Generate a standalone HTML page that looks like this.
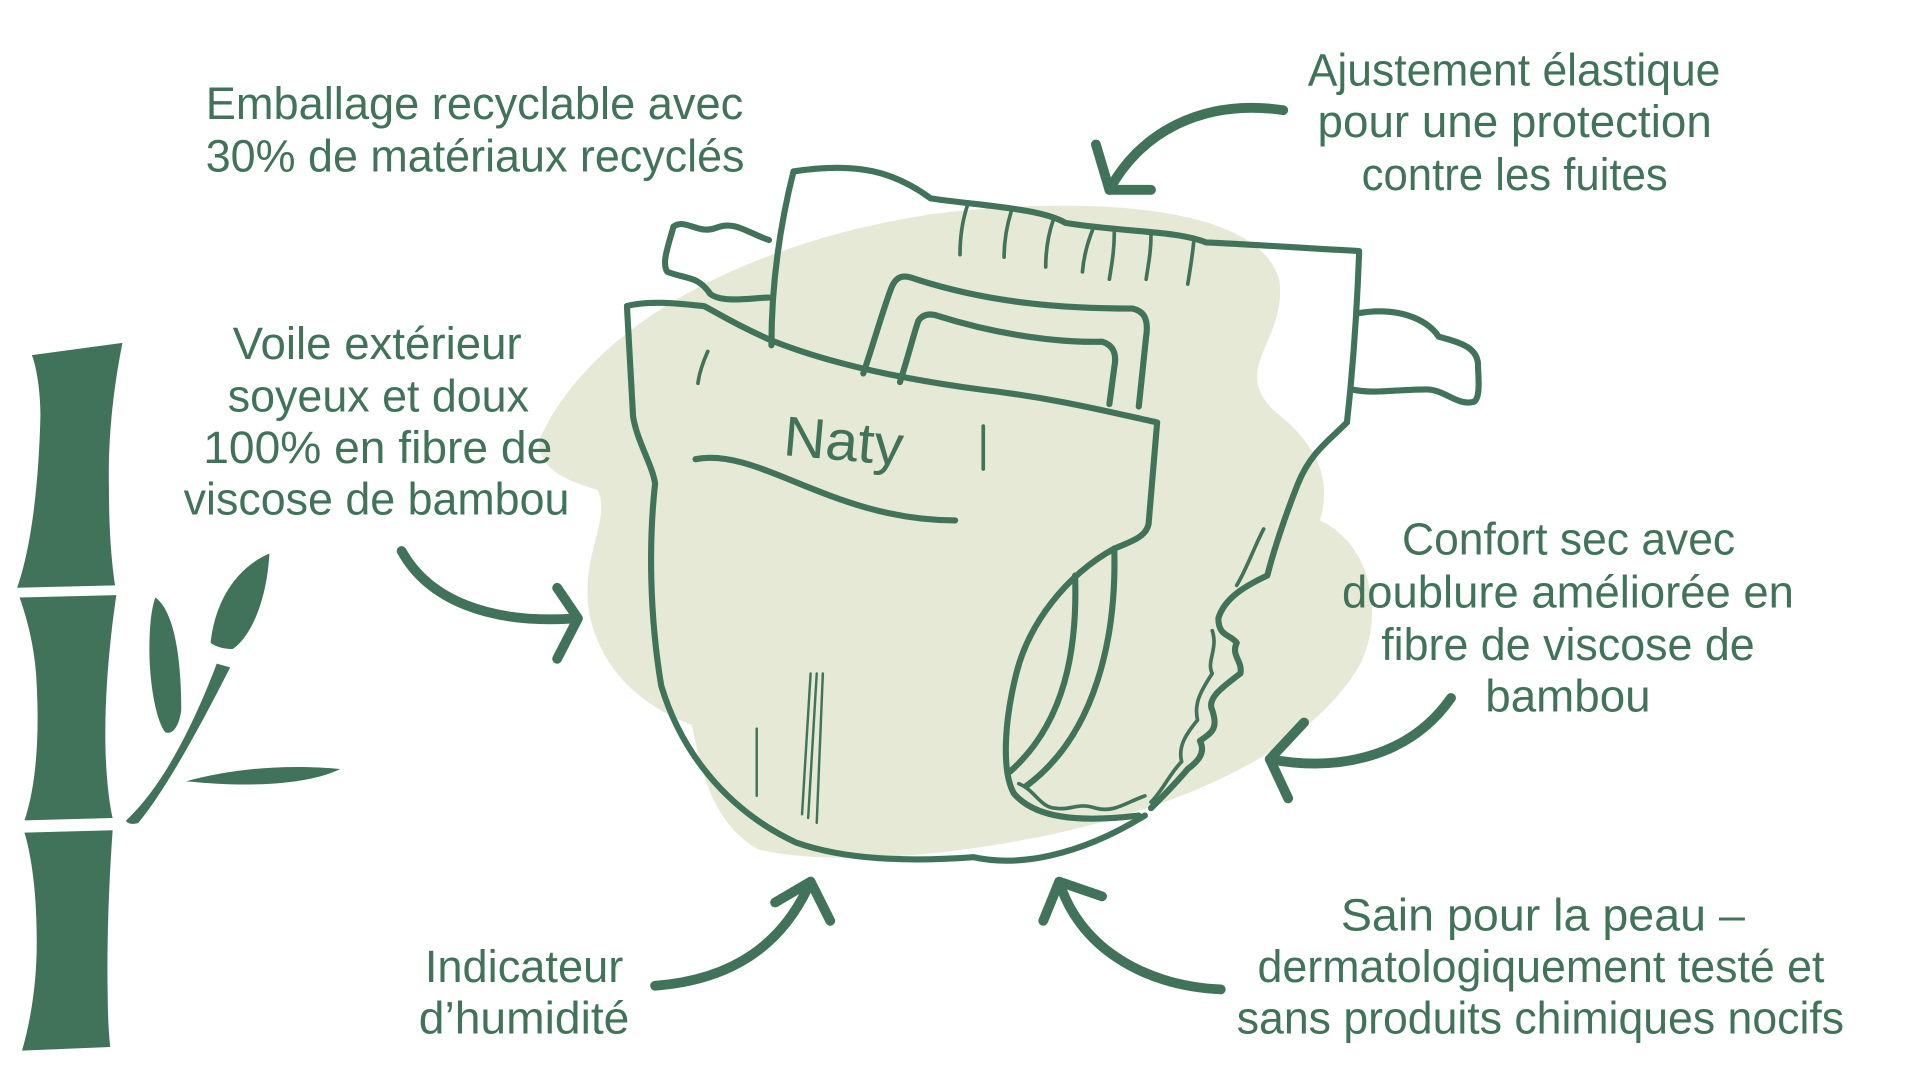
<!DOCTYPE html>
<html><head><meta charset="utf-8"><style>
html,body{margin:0;padding:0;background:#fff;width:1920px;height:1069px;overflow:hidden}
svg{display:block}
text{font-family:"Liberation Sans Narrow","Liberation Sans",sans-serif;font-size:37px;fill:#41735a}
</style></head><body>
<svg width="1920" height="1069" viewBox="0 0 1568 873" preserveAspectRatio="none" xmlns="http://www.w3.org/2000/svg">
<path fill="#e6e9d6" d="M440,360 C480,270 600,200 760,175 C880,160 1030,165 1045,230 C1050,280 1005,300 1040,335 C1085,370 1085,400 1078,425 C1120,445 1130,500 1112,540 C1080,600 1000,640 930,662 C850,690 700,712 620,694 C580,672 572,625 565,592 C520,575 492,545 482,505 C472,455 500,425 488,400 C460,392 440,382 440,360 Z"/>
<g fill="none" stroke="#41735a" stroke-width="5" stroke-linecap="round" stroke-linejoin="round">
<path d="M628,196 C610,190 600,180 585,186 C570,192 560,178 550,185 C546,200 540,215 545,222 C560,228 570,225 580,240 C590,248 615,243 628,243"/>
<path d="M630,282 C630,230 638,180 648,140 C700,132 730,140 760,162 C800,168 850,170 870,182 C920,190 960,188 985,198 C1030,200 1070,203 1110,205 C1108,260 1105,300 1100,345"/>
<path d="M1108,256 C1140,250 1165,260 1175,275 C1195,280 1208,285 1207,300 C1208,315 1208,325 1204,328 C1190,332 1180,318 1165,318 C1140,318 1120,322 1104,318"/>
<path d="M705,305 C712,285 722,250 728,235 C732,225 738,224 748,228 C810,248 870,252 925,252 C935,254 938,262 936,275 L930,332"/>
<path d="M735,312 C742,290 747,270 750,262 C754,256 760,256 766,258 C820,275 870,280 900,279 C910,282 912,290 910,300 L906,330"/>
<path d="M945,345 C900,335 860,325 800,318 C740,310 680,298 630,278 C600,265 585,255 575,250 C555,248 530,245 512,250 C514,285 516,320 517,340 C520,360 533,380 535,395 C530,440 530,500 540,560 C555,610 590,660 650,688 C690,702 740,704 795,700 C830,708 880,700 935,666"/>
<path d="M945,345 L938,428 C936,438 925,442 910,448"/>
<path d="M910,448 C870,470 840,510 830,550 C820,590 818,630 828,648 C845,668 880,672 930,666"/>
<path d="M878,470 C880,530 870,590 825,630"/>
<path d="M910,448 C912,520 895,600 838,642"/>
<path d="M1100,345 C1085,360 1070,370 1060,395 C1050,420 1040,450 1035,470 C1018,478 1000,488 995,505 C995,520 1005,518 1010,525 C1005,535 1015,540 1013,550 C1000,560 985,570 990,580 C995,595 990,598 980,605 C985,615 978,622 970,628 C960,640 950,650 940,660"/>
<path d="M1032,432 C1025,445 1018,465 1010,478" stroke-width="3"/>
<path d="M832,640 C845,645 850,660 862,660 C875,662 880,655 895,660 C910,664 920,655 935,650" stroke-width="3"/>
<path d="M990,515 C995,530 985,540 990,550 C980,565 975,575 978,588 C968,600 962,610 965,622 C955,632 950,645 940,655" stroke-width="3"/>
<g stroke-width="3">
<path d="M790,168 C786,180 784,195 784,208"/>
<path d="M826,172 C822,185 820,198 820,210"/>
<path d="M860,180 C856,192 854,205 854,218"/>
<path d="M893,186 C888,198 885,210 884,222"/>
<path d="M910,190 C910,205 908,215 906,228"/>
<path d="M940,192 C940,205 938,215 936,228"/>
<path d="M975,196 C974,208 972,220 970,232"/>
<path d="M578,287 C574,296 571,305 570,313"/>
<path d="M662,550 L655,665 M667,550 L660,668 M672,550 L667,672" stroke-width="2"/>
<path d="M618,595 L618,650" stroke-width="2"/>
</g>
<path d="M568,375 C620,365 680,425 780,425"/>
<path d="M803,348 L803,383" stroke-width="3"/>
<g stroke-width="8">
<path d="M1048,90 C980,80 930,110 906,155"/>
<path d="M895,118 L906,155 L940,155"/>
<path d="M328,450 C350,490 400,510 470,505"/>
<path d="M455,480 L472,505 L455,538"/>
<path d="M1185,570 C1150,620 1090,630 1037,620"/>
<path d="M1065,590 L1037,620 L1052,652"/>
<path d="M535,805 C600,800 640,770 662,720"/>
<path d="M633,737 L662,720 L678,752"/>
<path d="M997,808 C930,805 880,770 865,720"/>
<path d="M852,752 L865,720 L900,732"/>
</g>
</g>
<text x="640" y="376" style="font-family:'Liberation Sans Narrow','Liberation Sans',sans-serif;font-size:46px" textLength="98" lengthAdjust="spacingAndGlyphs" transform="rotate(5 690 360)">Naty</text>
<g fill="#41735a">
<path d="M26,290 L100,280 C92,320 88,360 89,400 C89,440 92,465 94,478 L14,480 C28,440 32,380 33,340 C33,320 30,300 26,290 Z"/>
<path d="M16,488 L95,486 C90,520 86,560 86,600 C86,630 89,655 92,668 L20,670 C30,640 32,600 30,560 C29,530 22,505 16,488 Z"/>
<path d="M20,680 L92,678 C89,720 87,770 88,815 C88,830 89,845 90,855 L18,858 C26,830 30,800 30,770 C30,730 26,700 20,680 Z"/>
<path d="M127,488 C143,500 148,540 148,580 C146,595 140,600 135,598 C128,590 122,560 122,530 C122,510 124,495 127,488 Z"/>
<path d="M220,452 C218,490 205,520 190,530 C180,530 175,527 172,525 C175,495 190,465 220,452 Z"/>
<path d="M177,542 L188,545 C160,600 135,645 113,672 C107,674 103,672 103,670 C130,645 155,600 177,542 Z"/>
<path d="M152,638 C200,625 245,625 278,628 C260,637 220,645 152,638 Z"/>
</g>
<text x="168" y="97" textLength="439" lengthAdjust="spacingAndGlyphs">Emballage recyclable avec</text>
<text x="168" y="140" textLength="440" lengthAdjust="spacingAndGlyphs">30% de matériaux recyclés</text>
<text x="1068" y="70" textLength="337" lengthAdjust="spacingAndGlyphs">Ajustement élastique</text>
<text x="1076" y="112" textLength="322" lengthAdjust="spacingAndGlyphs">pour une protection</text>
<text x="1112" y="155" textLength="250" lengthAdjust="spacingAndGlyphs">contre les fuites</text>
<text x="190" y="293" textLength="236" lengthAdjust="spacingAndGlyphs">Voile extérieur</text>
<text x="186" y="336" textLength="246" lengthAdjust="spacingAndGlyphs">soyeux et doux</text>
<text x="166" y="378" textLength="285" lengthAdjust="spacingAndGlyphs">100% en fibre de</text>
<text x="150" y="420" textLength="315" lengthAdjust="spacingAndGlyphs">viscose de bambou</text>
<text x="1145" y="453" textLength="272" lengthAdjust="spacingAndGlyphs">Confort sec avec</text>
<text x="1096" y="496" textLength="369" lengthAdjust="spacingAndGlyphs">doublure améliorée en</text>
<text x="1128" y="539" textLength="305" lengthAdjust="spacingAndGlyphs">fibre de viscose de</text>
<text x="1213" y="581" textLength="135" lengthAdjust="spacingAndGlyphs">bambou</text>
<text x="347" y="802" textLength="162" lengthAdjust="spacingAndGlyphs">Indicateur</text>
<text x="342" y="844" textLength="172" lengthAdjust="spacingAndGlyphs">d’humidité</text>
<text x="1095" y="760" textLength="330" lengthAdjust="spacingAndGlyphs">Sain pour la peau –</text>
<text x="1027" y="802" textLength="463" lengthAdjust="spacingAndGlyphs">dermatologiquement testé et</text>
<text x="1010" y="844" textLength="496" lengthAdjust="spacingAndGlyphs">sans produits chimiques nocifs</text>
</svg>
</body></html>
